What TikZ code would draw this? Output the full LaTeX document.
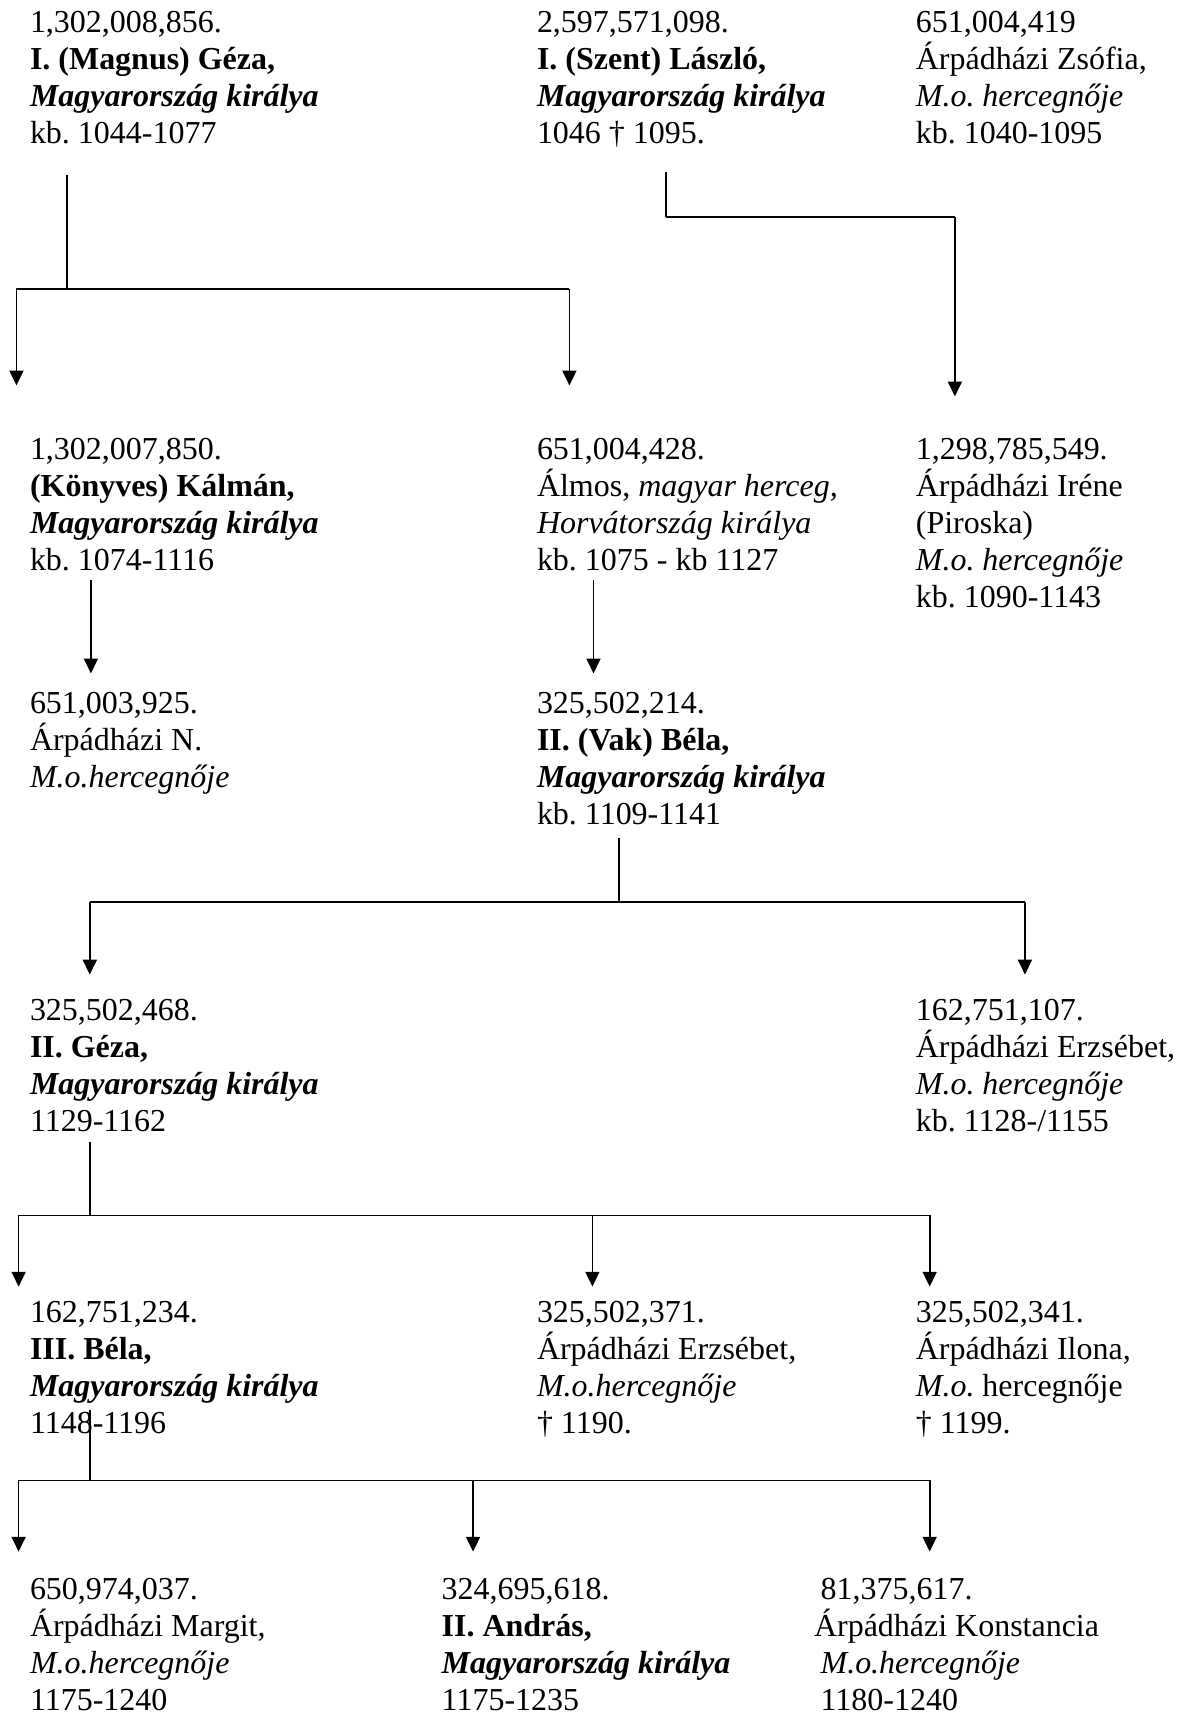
\documentclass[tikz,border=0pt]{standalone}
\usepackage{fontspec}
\setmainfont{Liberation Serif}
\usetikzlibrary{arrows.meta}
\frenchspacing
\begin{document}
\begin{tikzpicture}[x=0.5pt,y=-0.5pt,
  person/.style={anchor=north west, inner sep=0pt, align=left, font=\fontsize{14.6}{16.85}\selectfont},
  stem/.style={line width=0.8pt},
  bar/.style={line width=0.8pt},
  arr/.style={line width=0.8pt,-{Triangle[width=6.4pt,length=6.8pt]}}]
\useasboundingbox (0,0) rectangle (1080,1568);
% row 1
\node[person] (geza1) at (27,10) {1,302,008,856.\\\textbf{I. (Magnus) Géza,}\\\textbf{\textit{Magyarország királya}}\\kb. 1044-1077};
\node[person] (laszlo) at (490,10) {2,597,571,098.\\\textbf{I. (Szent) László,}\\\textbf{\textit{Magyarország királya}}\\1046 † 1095.};
\node[person] (zsofia) at (836,10) {651,004,419\\Árpádházi Zsófia,\\\textit{M.o. hercegnője}\\kb. 1040-1095};
% row 2
\node[person] (kalman) at (27,400) {1,302,007,850.\\\textbf{(Könyves) Kálmán,}\\\textbf{\textit{Magyarország királya}}\\kb. 1074-1116};
\node[person] (almos) at (490,400) {651,004,428.\\Álmos, \textit{magyar herceg,}\\\textit{Horvátország királya}\\kb. 1075 - kb 1127};
\node[person] (irene) at (836,400) {1,298,785,549.\\Árpádházi Iréne\\(Piroska)\\\textit{M.o. hercegnője}\\kb. 1090-1143};
% row 3
\node[person] (nn) at (27,632) {651,003,925.\\Árpádházi N.\\\textit{M.o.hercegnője}};
\node[person] (bela2) at (490,632) {325,502,214.\\\textbf{II. (Vak) Béla,}\\\textbf{\textit{Magyarország királya}}\\kb. 1109-1141};
% row 4
\node[person] (geza2) at (27,912) {325,502,468.\\\textbf{II. Géza,}\\\textbf{\textit{Magyarország királya}}\\1129-1162};
\node[person] (erzs1) at (836,912) {162,751,107.\\Árpádházi Erzsébet,\\\textit{M.o. hercegnője}\\kb. 1128-/1155};
% row 5
\node[person] (bela3) at (27,1188) {162,751,234.\\\textbf{III. Béla,}\\\textbf{\textit{Magyarország királya}}\\1148-1196};
\node[person] (erzs2) at (490,1188) {325,502,371.\\Árpádházi Erzsébet,\\\textit{M.o.hercegnője}\\† 1190.};
\node[person] (ilona) at (836,1188) {325,502,341.\\Árpádházi Ilona,\\\textit{M.o.} hercegnője\\† 1199.};
% row 6
\node[person] (margit) at (27,1441) {650,974,037.\\Árpádházi Margit,\\\textit{M.o.hercegnője}\\1175-1240};
\node[person] (andras) at (403,1441) {324,695,618.\\\textbf{II. András,}\\\textbf{\textit{Magyarország királya}}\\1175-1235};
\node[person] (konst) at (743,1441) {\hspace*{3pt}81,375,617.\\Árpádházi Konstancia\\\hspace*{3pt}\textit{M.o.hercegnője}\\\hspace*{3pt}1180-1240};
% connectors: Géza I
\coordinate (g1s) at (61,160);
\coordinate (g1j) at (61,264);
\coordinate (g1l) at (15,264);
\coordinate (g1r) at (520,264);
\coordinate (g1lt) at (15,352);
\coordinate (g1rt) at (520,352);
\draw[stem] (g1s) -- (g1j);
\draw[bar] (g1l) -- (g1r);
\draw[arr] (g1l) -- (g1lt);
\draw[arr] (g1r) -- (g1rt);
% László
\coordinate (lss) at (608,157);
\coordinate (lsj) at (608,198);
\coordinate (lsr) at (872,198);
\coordinate (lst) at (872,362);
\draw[stem] (lss) -- (lsj);
\draw[bar] (lsj) -- (lsr);
\draw[arr] (lsr) -- (lst);
% Kálmán, Álmos
\coordinate (kas) at (83,530);
\coordinate (kat) at (83,615);
\coordinate (als) at (542,530);
\coordinate (alt) at (542,615);
\draw[arr] (kas) -- (kat);
\draw[arr] (als) -- (alt);
% Béla II
\coordinate (b2s) at (565,765);
\coordinate (b2j) at (565,824);
\coordinate (b2l) at (82,824);
\coordinate (b2r) at (936,824);
\coordinate (b2lt) at (82,890);
\coordinate (b2rt) at (936,890);
\draw[stem] (b2s) -- (b2j);
\draw[bar] (b2l) -- (b2r);
\draw[arr] (b2l) -- (b2lt);
\draw[arr] (b2r) -- (b2rt);
% Géza II
\coordinate (g2s) at (82,1043);
\coordinate (g2j) at (82,1110);
\coordinate (g2l) at (17,1110);
\coordinate (g2m) at (541,1110);
\coordinate (g2r) at (849,1110);
\coordinate (g2lt) at (17,1175);
\coordinate (g2mt) at (541,1175);
\coordinate (g2rt) at (849,1175);
\draw[stem] (g2s) -- (g2j);
\draw[bar] (g2l) -- (g2r);
\draw[arr] (g2l) -- (g2lt);
\draw[arr] (g2m) -- (g2mt);
\draw[arr] (g2r) -- (g2rt);
% Béla III
\coordinate (b3s) at (82,1288);
\coordinate (b3j) at (82,1352);
\coordinate (b3l) at (17,1352);
\coordinate (b3m) at (432,1352);
\coordinate (b3r) at (849,1352);
\coordinate (b3lt) at (17,1417);
\coordinate (b3mt) at (432,1417);
\coordinate (b3rt) at (849,1417);
\draw[stem] (b3s) -- (b3j);
\draw[bar] (b3l) -- (b3r);
\draw[arr] (b3l) -- (b3lt);
\draw[arr] (b3m) -- (b3mt);
\draw[arr] (b3r) -- (b3rt);
\end{tikzpicture}
\end{document}
